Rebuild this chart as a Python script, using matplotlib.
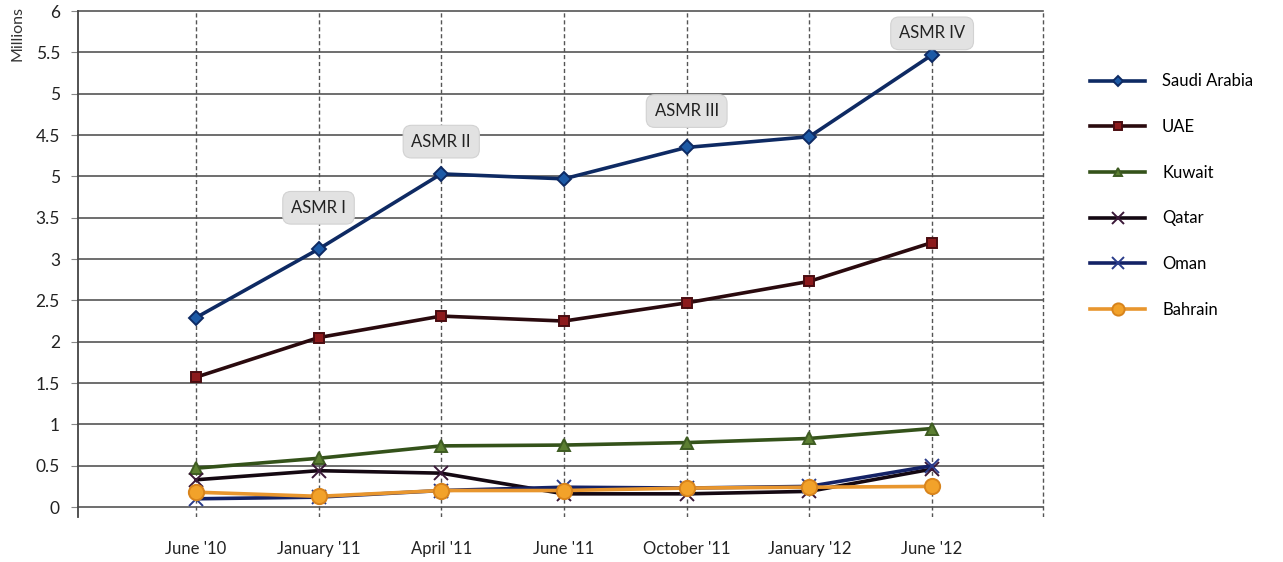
import matplotlib.pyplot as plt
import numpy as np

plt.rcParams['font.family'] = ['Lato', 'DejaVu Sans']

periods = ["June '10", "January '11", "April '11", "June '11",
           "October '11", "January '12", "June '12"]

saudi_arabia = [2.29, 3.12, 4.03, 3.97, 4.35, 4.48, 5.47]
uae = [1.57, 2.05, 2.31, 2.25, 2.47, 2.73, 3.20]
kuwait = [0.47, 0.59, 0.74, 0.75, 0.78, 0.83, 0.95]
qatar = [0.33, 0.44, 0.41, 0.16, 0.16, 0.19, 0.46]
oman = [0.10, 0.12, 0.20, 0.24, 0.23, 0.25, 0.50]
bahrain = [0.18, 0.13, 0.20, 0.20, 0.23, 0.24, 0.25]

y_ticks = [0, 0.5, 1, 1.5, 2, 2.5, 3, 3.5, 4, 4.5, 5, 5.5, 6]
y_tick_labels = ['0', '0.5', '1', '1.5', '2', '2.5', '3', '3.5', '5',
                 '4.5', '5', '5.5', '6']

# survey rounds: label, period index, height of the tag
rounds = [('ASMR I', 1, 3.62), ('ASMR II', 2, 4.42),
          ('ASMR III', 4, 4.79), ('ASMR IV', 6, 5.73)]

series = [
    ('Saudi Arabia', saudi_arabia, '#0e2a63', 'D', '#1d5aa6', '#0e2a63', 7),
    ('UAE', uae, '#2a0a0e', 's', '#8c1a1c', '#4a0c10', 7),
    ('Kuwait', kuwait, '#34521a', '^', '#5c7f32', '#3e5c22', 8),
    ('Qatar', qatar, '#140812', 'x', '#3a1838', '#3a1838', 10),
    ('Oman', oman, '#142266', 'x', '#2a3c8a', '#2a3c8a', 10),
    ('Bahrain', bahrain, '#e8962e', 'o', '#f2a22a', '#d8841c', 11),
]

fig = plt.figure(figsize=(12.83, 5.62), dpi=100)
ax = fig.add_axes([0.0608, 0.0801, 0.7537, 0.9003])

x = np.arange(len(periods))
for name, vals, lc, mk, mfc, mec, ms in series:
    ax.plot(x, vals, color=lc, lw=2.6, marker=mk, markersize=ms,
            markerfacecolor=mfc, markeredgecolor=mec, markeredgewidth=1.4,
            label=name, zorder=3, clip_on=False)

ax.set_xlim(-0.96, 6.92)
ax.set_ylim(-0.12, 6)

# horizontal grid, solid
for yv in y_ticks:
    ax.plot([-0.96, 6.9], [yv, yv], color='#555555', lw=1.2, zorder=1,
            clip_on=False)
# vertical dashed guides through each period plus the right edge
ax.vlines(list(x) + [6.9], -0.12, 6, colors='#555555', linestyles=(0, (3, 2)),
          lw=1.0, zorder=1)

for s in ['top', 'right', 'bottom']:
    ax.spines[s].set_visible(False)
ax.spines['left'].set_color('#444444')
ax.spines['left'].set_linewidth(1.3)

ax.set_yticks(y_ticks)
ax.set_yticklabels(y_tick_labels, fontsize=12.5, color='#222222')
ax.tick_params(axis='y', length=5, color='#888888', pad=8)
ax.set_xticks(x)
ax.set_xticklabels(periods, fontsize=12, color='#222222')
ax.tick_params(axis='x', length=0, pad=17)

fig.text(0.014, 0.94, 'Millions', rotation=90, ha='center', va='center',
         fontsize=11.5, color='#333333')

for label, idx, yv in rounds:
    ax.text(idx, yv, label, ha='center', va='center', fontsize=12,
            color='#222222', zorder=5,
            bbox=dict(boxstyle='round,pad=0.5', facecolor='#e2e2e2',
                      edgecolor='#d2d2d2', lw=0.8))

ax.legend(loc='upper left', bbox_to_anchor=(1.04, 0.89), frameon=False,
          fontsize=12, handlelength=3.3, labelspacing=1.78, handletextpad=1.0,
          borderaxespad=0, markerscale=0.8)

fig.savefig('out.png', dpi=100)
